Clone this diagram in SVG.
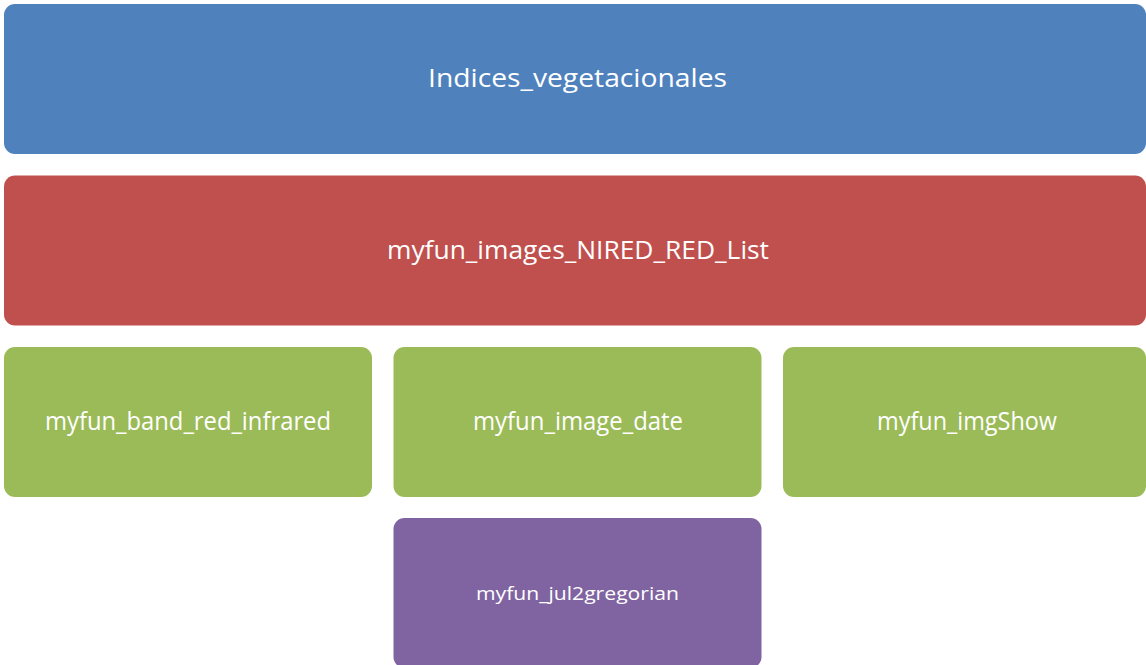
<svg xmlns="http://www.w3.org/2000/svg" width="1146" height="665" viewBox="0 0 1146 665">
<style>
.box{stroke:none}
.t{font-family:"Open Sans","Liberation Sans",sans-serif;fill:#ffffff;text-anchor:middle}
.big{font-size:25px}
.small{font-size:19px}
</style>
<rect width="1146" height="665" fill="#ffffff"/>
<g id="connectors"></g>
<g id="n1">
<rect class="box" x="4" y="4" width="1142" height="150" rx="11" fill="#4F81BD"/>
<text class="t big" x="577.5" y="87" textLength="299" lengthAdjust="spacingAndGlyphs">Indices_vegetacionales</text>
</g>
<g id="n2">
<rect class="box" x="4" y="175.5" width="1142" height="150" rx="11" fill="#C0504D"/>
<text class="t big" x="578" y="258.5" textLength="382" lengthAdjust="spacingAndGlyphs">myfun_images_NIRED_RED_List</text>
</g>
<g id="n3">
<rect class="box" x="4" y="347" width="368" height="150" rx="11" fill="#9BBB59"/>
<text class="t big" x="188" y="430" textLength="286" lengthAdjust="spacingAndGlyphs">myfun_band_red_infrared</text>
</g>
<g id="n4">
<rect class="box" x="393.5" y="347" width="368" height="150" rx="11" fill="#9BBB59"/>
<text class="t big" x="578" y="430" textLength="210" lengthAdjust="spacingAndGlyphs">myfun_image_date</text>
</g>
<g id="n5">
<rect class="box" x="783" y="347" width="363" height="150" rx="11" fill="#9BBB59"/>
<text class="t big" x="967" y="430" textLength="180" lengthAdjust="spacingAndGlyphs">myfun_imgShow</text>
</g>
<g id="n6">
<rect class="box" x="393.5" y="518" width="368" height="150" rx="11" fill="#8064A2"/>
<text class="t small" x="577.5" y="600" textLength="203" lengthAdjust="spacingAndGlyphs">myfun_jul2gregorian</text>
</g>
</svg>
